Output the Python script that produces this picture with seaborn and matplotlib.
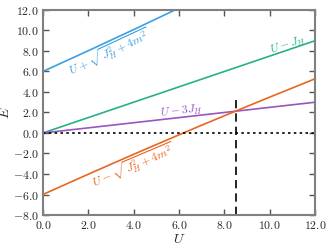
import numpy as np
import pandas as pd
import matplotlib
matplotlib.use('Agg')
import matplotlib.pyplot as plt
import seaborn as sns
from matplotlib.ticker import FormatStrFormatter

# values
u_vals = [0.0, 1.0, 2.0, 3.0, 4.0, 5.0, 6.0, 7.0, 8.0, 9.0, 10.0, 11.0, 12.0]
e_plus = [6.0, 7.01, 8.02, 9.05, 10.08, 11.13, 12.18, 13.24, 14.32, 15.41, 16.5, 17.61, 18.71]
e_minus = [-6.0, -5.01, -4.02, -3.05, -2.08, -1.13, -0.18, 0.76, 1.68, 2.59, 3.5, 4.39, 5.29]
e_uj = [0.0, 0.75, 1.5, 2.25, 3.0, 3.75, 4.5, 5.25, 6.0, 6.75, 7.5, 8.25, 9.0]
e_u3j = [0.0, 0.25, 0.5, 0.75, 1.0, 1.25, 1.5, 1.75, 2.0, 2.25, 2.5, 2.75, 3.0]
u_cross = 8.49
e_cross_top = 3.6

colors = {'plus': '#3d9fe0', 'minus': '#e8661e', 'uj': '#27b08a', 'u3j': '#9a55c0'}

sns.set_style('ticks')
plt.rcParams['font.family'] = 'serif'
plt.rcParams['font.serif'] = ['cmr10', 'DejaVu Serif']
plt.rcParams['mathtext.fontset'] = 'cm'
plt.rcParams['axes.formatter.use_mathtext'] = True

df = pd.DataFrame({'U': u_vals, 'plus': e_plus, 'minus': e_minus, 'uj': e_uj, 'u3j': e_u3j})

fig = plt.figure(figsize=(3.3, 2.48), dpi=100)
ax = fig.add_axes([0.130, 0.133, 0.825, 0.827])

for key in ['plus', 'uj', 'u3j', 'minus']:
    sns.lineplot(data=df, x='U', y=key, ax=ax, color=colors[key], linewidth=1.2)

ax.axhline(0, color='black', linestyle=(0, (1.5, 2)), linewidth=1.2)
ax.plot([u_cross, u_cross], [-8, e_cross_top], color='black', linestyle=(0, (5, 3)), linewidth=1.2)

ax.set_xlim(0, 12)
ax.set_ylim(-8, 12)
ax.set_xticks(np.arange(0, 12.1, 2))
ax.set_yticks(np.arange(-8, 12.1, 2))
ax.xaxis.set_major_formatter(FormatStrFormatter('$%.1f$'))
ax.yaxis.set_major_formatter(FormatStrFormatter('$%.1f$'))
ax.tick_params(direction='in', top=True, right=True, length=4, width=1, color='#555555', labelsize=8.5, pad=3)
for s in ax.spines.values():
    s.set_color('#808080')
    s.set_linewidth(1.5)

ax.set_xlabel('$U$', fontsize=10, labelpad=1)
ax.set_ylabel('$E$', fontsize=10)
ax.yaxis.set_label_coords(-0.112, 0.5)

ax.text(2.95, 7.75, r'$U+\sqrt{J_H^2+4m^2}$', color=colors['plus'], fontsize=8.5, rotation=25, ha='center', va='center')
ax.text(10.8, 8.55, r'$U-J_H$', color=colors['uj'], fontsize=8.5, rotation=18.5, ha='center', va='center')
ax.text(6.1, 2.1, r'$U-3J_H$', color=colors['u3j'], fontsize=8.5, rotation=6.5, ha='center', va='center')
ax.text(4.0, -3.3, r'$U-\sqrt{J_H^2+4m^2}$', color=colors['minus'], fontsize=8.5, rotation=23, ha='center', va='center')

fig.savefig('out.png', dpi=100)
